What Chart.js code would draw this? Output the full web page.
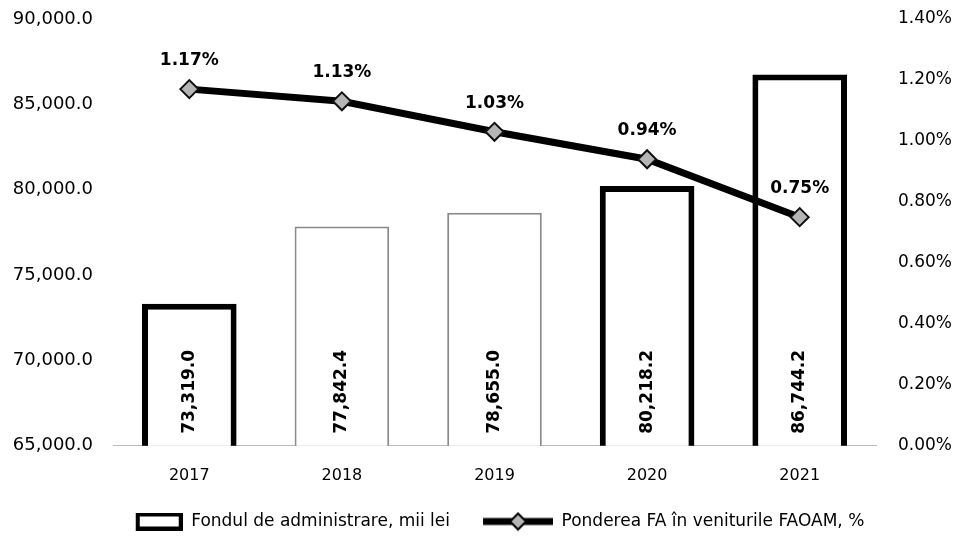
<!DOCTYPE html>
<html>
<head>
<meta charset="utf-8">
<script src="https://cdn.jsdelivr.net/npm/chart.js@4/dist/chart.umd.min.js"></script>
<style>
  html, body { margin: 0; padding: 0; background: #fff; }
  #wrap { width: 960px; height: 540px; }
</style>
</head>
<body>
<div id="wrap"><canvas id="mainChart"></canvas></div>
<script>
// ---------------------------------------------
// data
// ---------------------------------------------
const years = ['2017', '2018', '2019', '2020', '2021'];
const fundValues = [73319.0, 77842.4, 78655.0, 80218.2, 86744.2];
const sharePct = [1.17, 1.13, 1.03, 0.94, 0.75];

const fundLabel = 'Fondul de administrare, mii lei';
const shareLabel = 'Ponderea FA în veniturile FAOAM, %';

const FONT = 'DejaVu Sans';

const fmtFund = v => v.toLocaleString('en-US', {minimumFractionDigits: 1, maximumFractionDigits: 1});

// ---------------------------------------------
// legend symbols (small canvases, same width, drawn to the right)
// ---------------------------------------------
function boxSymbol() {
  const cv = document.createElement('canvas');
  cv.width = 95; cv.height = 18;
  const g = cv.getContext('2d');
  g.fillStyle = '#fff';
  g.strokeStyle = '#000';
  g.lineWidth = 4;
  g.fillRect(50, 2, 43, 14);
  g.strokeRect(50, 2, 43, 14);
  return cv;
}
function lineSymbol() {
  const cv = document.createElement('canvas');
  cv.width = 95; cv.height = 20;
  const g = cv.getContext('2d');
  g.strokeStyle = '#000';
  g.lineWidth = 7;
  g.beginPath();
  g.moveTo(25, 10); g.lineTo(95, 10);
  g.stroke();
  g.fillStyle = '#b5b5b5';
  g.lineWidth = 2;
  g.beginPath();
  g.moveTo(60, 2); g.lineTo(68, 10); g.lineTo(60, 18); g.lineTo(52, 10); g.closePath();
  g.fill(); g.stroke();
  return cv;
}

// labels inside bars (rotated) and above the points
const valueLabels = {
  id: 'valueLabels',
  afterDatasetsDraw(chart) {
    const c = chart.ctx;
    const bottom = chart.chartArea.bottom;
    c.save();
    c.fillStyle = '#000';
    c.font = 'bold 17px "' + FONT + '"';

    const bars = chart.getDatasetMeta(1).data;
    bars.forEach((bar, i) => {
      const bx = bar.getProps(['x'], true).x;
      c.save();
      c.translate(bx, bottom - 12);
      c.rotate(-Math.PI / 2);
      c.textAlign = 'left';
      c.textBaseline = 'middle';
      c.fillText(fmtFund(fundValues[i]), 0, 0);
      c.restore();
    });

    const pts = chart.getDatasetMeta(0).data;
    c.textAlign = 'center';
    c.textBaseline = 'bottom';
    pts.forEach((p, i) => {
      c.fillText(sharePct[i].toFixed(2) + '%', p.x, p.y - 20);
    });
    c.restore();
  }
};

function noVertPad(scale) {
  scale.paddingTop = 0;
  scale.paddingBottom = 0;
}

const ctx = document.getElementById('mainChart').getContext('2d');

const mainChart = new Chart(ctx, {
  data: {
    labels: years,
    datasets: [
      {
        type: 'line',
        label: shareLabel,
        data: sharePct,
        yAxisID: 'yPct',
        borderColor: '#000',
        borderWidth: 7,
        backgroundColor: '#000',
        pointStyle: 'rectRot',
        pointRadius: 9,
        pointBackgroundColor: '#b5b5b5',
        pointBorderColor: '#111',
        pointBorderWidth: 2,
        tension: 0,
        order: 0
      },
      {
        type: 'bar',
        label: fundLabel,
        data: fundValues,
        yAxisID: 'yFund',
        backgroundColor: '#fff',
        borderColor: ['#000', '#8a8a8a', '#8a8a8a', '#000', '#000'],
        borderWidth: [6, 2, 2, 6, 6],
        barPercentage: 0.62,
        categoryPercentage: 1,
        order: 1
      }
    ]
  },
  options: {
    responsive: true,
    maintainAspectRatio: false,
    animation: false,
    layout: { padding: { top: 19, left: 0, right: 8, bottom: 0 } },
    plugins: {
      tooltip: { enabled: false },
      legend: {
        position: 'bottom',
        labels: {
          color: '#000',
          font: { family: FONT, size: 17 },
          usePointStyle: true,
          pointStyleWidth: 95,
          padding: 8,
          generateLabels() {
            return [
              { text: fundLabel, pointStyle: boxSymbol(), fillStyle: '#fff', strokeStyle: '#000', lineWidth: 0, datasetIndex: 1 },
              { text: shareLabel, pointStyle: lineSymbol(), fillStyle: '#000', strokeStyle: '#000', lineWidth: 0, datasetIndex: 0 }
            ];
          }
        }
      }
    },
    scales: {
      x: {
        offset: true,
        grid: { display: false, drawTicks: false },
        border: { display: true, color: '#bbb', dash: [2, 3], width: 1 },
        ticks: { color: '#000', font: { family: FONT, size: 16 }, padding: 20 }
      },
      yFund: {
        type: 'linear',
        position: 'left',
        min: 65000,
        max: 90000,
        grid: { display: false, drawTicks: false },
        border: { display: false },
        ticks: {
          stepSize: 5000,
          color: '#000',
          padding: 20,
          font: { family: FONT, size: 18 },
          callback: v => fmtFund(v)
        },
        afterFit(scale) { scale.width = 113; noVertPad(scale); }
      },
      yPct: {
        type: 'linear',
        position: 'right',
        min: 0,
        max: 1.4,
        grid: { display: false, drawTicks: false },
        border: { display: false },
        ticks: {
          stepSize: 0.2,
          color: '#000',
          padding: 22,
          font: { family: FONT, size: 17 },
          callback: v => v.toFixed(2) + '%'
        },
        afterFit(scale) { scale.width = 76; noVertPad(scale); }
      }
    }
  },
  plugins: [valueLabels]
});
</script>
</body>
</html>
